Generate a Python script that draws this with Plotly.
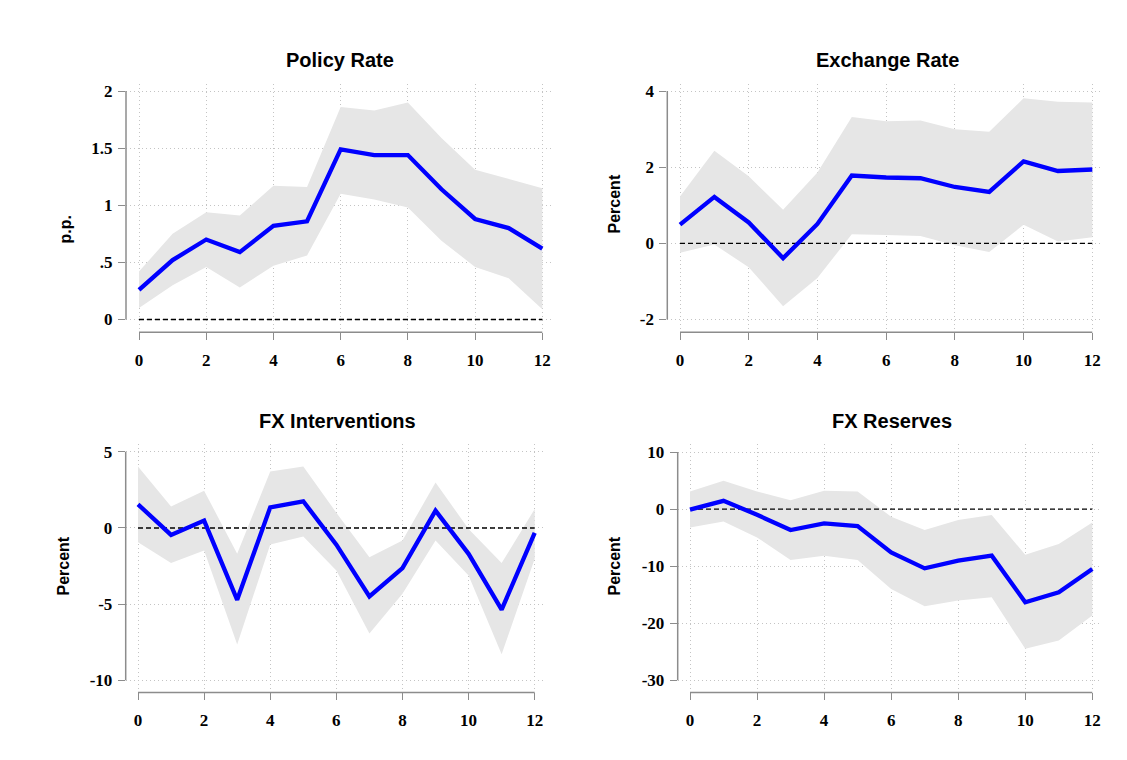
import plotly.graph_objects as go

# ---------------- data ----------------
horizon = list(range(13))

policy_irf = [0.26, 0.52, 0.70, 0.59, 0.82, 0.86, 1.49, 1.44, 1.44, 1.14, 0.88, 0.80, 0.62]
policy_hi = [0.42, 0.75, 0.94, 0.91, 1.17, 1.16, 1.86, 1.83, 1.90, 1.59, 1.31, 1.23, 1.15]
policy_lo = [0.10, 0.30, 0.46, 0.28, 0.47, 0.56, 1.10, 1.05, 0.98, 0.69, 0.46, 0.36, 0.09]

fx_rate_irf = [0.49, 1.22, 0.55, -0.39, 0.51, 1.78, 1.73, 1.71, 1.48, 1.35, 2.15, 1.90, 1.94]
fx_rate_hi = [1.23, 2.43, 1.76, 0.88, 1.86, 3.32, 3.21, 3.23, 3.00, 2.93, 3.81, 3.72, 3.70]
fx_rate_lo = [-0.25, -0.03, -0.63, -1.65, -0.91, 0.24, 0.22, 0.19, -0.05, -0.23, 0.49, 0.05, 0.16]

fxi_irf = [1.55, -0.46, 0.48, -4.72, 1.35, 1.75, -1.10, -4.50, -2.64, 1.14, -1.70, -5.37, -0.33]
fxi_hi = [4.04, 1.40, 2.45, -1.70, 3.71, 4.04, 1.00, -1.92, -0.83, 2.99, -0.07, -2.31, 1.24]
fxi_lo = [-0.94, -2.31, -1.48, -7.66, -1.09, -0.57, -2.79, -6.94, -4.32, -0.83, -3.12, -8.30, -2.03]

res_irf = [-0.10, 1.46, -0.99, -3.67, -2.51, -2.97, -7.58, -10.38, -9.04, -8.16, -16.33, -14.58, -10.50]
res_hi = [3.09, 4.96, 3.09, 1.57, 3.21, 3.09, -1.34, -3.67, -1.92, -1.05, -7.99, -6.12, -2.33]
res_lo = [-3.21, -2.16, -4.96, -8.92, -8.16, -8.92, -13.99, -17.03, -16.03, -15.45, -24.49, -23.03, -18.66]

titles = ["Policy Rate", "Exchange Rate", "FX Interventions", "FX Reserves"]
ytitles = ["p.p.", "Percent", "Percent", "Percent"]

x_ticks = [0, 2, 4, 6, 8, 10, 12]
y_ticks_policy = [0, 0.5, 1, 1.5, 2]
y_ticklabels_policy = ["0", ".5", "1", "1.5", "2"]
y_ticks_fxrate = [-2, 0, 2, 4]
y_ticks_fxi = [-10, -5, 0, 5]
y_ticks_res = [-30, -20, -10, 0, 10]

series = [
    (policy_irf, policy_lo, policy_hi, y_ticks_policy, y_ticklabels_policy),
    (fx_rate_irf, fx_rate_lo, fx_rate_hi, y_ticks_fxrate, [str(v) for v in y_ticks_fxrate]),
    (fxi_irf, fxi_lo, fxi_hi, y_ticks_fxi, [str(v) for v in y_ticks_fxi]),
    (res_irf, res_lo, res_hi, y_ticks_res, [str(v) for v in y_ticks_res]),
]

# ---------------- layout (page pixels) ----------------
W, H, OFF = 1111, 744, 8

def px(x):
    return (x - OFF) / W

def py(y):
    return 1 - (y - OFF) / H

# per panel: domain left, right, top, bottom ; pixel of first/last x tick ; pixel of max/min y tick
panels = [
    dict(l=126, r=552, t=82.7, b=331, x0=139, x12=542.3, ytop=89.3, ybot=318.3, tx=340, ty=58.5, ax=65, ay=228),
    dict(l=667.3, r=1103, t=82.7, b=331, x0=680, x12=1092.3, ytop=89.3, ybot=318.3, tx=887, ty=58.5, ax=614, ay=203),
    dict(l=125.7, r=545, t=442.7, b=692.3, x0=138, x12=534.7, ytop=451, ybot=680, tx=337, ty=420.5, ax=63, ay=566),
    dict(l=677.7, r=1102, t=442.7, b=692.3, x0=690, x12=1092.3, ytop=451.3, ybot=680, tx=892, ty=420.5, ax=614, ay=566),
]

BLUE = "#0000ff"
BAND = "#e6e6e6"
AXC = "#8c8c8c"
GRIDC = "#c4c4c4"
TICKFONT = dict(family="Liberation Serif", size=17, color="black", weight="bold")

fig = go.Figure()
shapes = []
annotations = []

for i, (p, (irf, lo, hi, yt, ytl)) in enumerate(zip(panels, series)):
    xa = "x" if i == 0 else f"x{i+1}"
    ya = "y" if i == 0 else f"y{i+1}"
    xs = (p["x12"] - p["x0"]) / (horizon[-1] - horizon[0])
    xr = [horizon[0] - (p["x0"] - p["l"]) / xs, horizon[-1] + (p["r"] - p["x12"]) / xs]
    ys = (p["ybot"] - p["ytop"]) / (max(yt) - min(yt))
    yr = [min(yt) - (p["b"] - p["ybot"]) / ys, max(yt) + (p["ytop"] - p["t"]) / ys]

    fig.add_trace(go.Scatter(x=horizon, y=lo, mode="lines", line=dict(width=0, color=BAND),
                             xaxis=xa, yaxis=ya, showlegend=False, hoverinfo="skip"))
    fig.add_trace(go.Scatter(x=horizon, y=hi, mode="lines", line=dict(width=0, color=BAND),
                             fill="tonexty", fillcolor=BAND,
                             xaxis=xa, yaxis=ya, showlegend=False, hoverinfo="skip"))
    fig.add_trace(go.Scatter(x=[horizon[0], horizon[-1]], y=[0, 0], mode="lines",
                             line=dict(width=1.4, color="black", dash="5px,3px"),
                             xaxis=xa, yaxis=ya, showlegend=False, hoverinfo="skip"))
    fig.add_trace(go.Scatter(x=horizon, y=irf, mode="lines", line=dict(width=4.3, color=BLUE),
                             xaxis=xa, yaxis=ya, showlegend=False))

    axis_common = dict(showline=False, zeroline=False, showgrid=True, gridcolor=GRIDC,
                       griddash="1px,3px", gridwidth=1, ticks="outside", ticklen=7,
                       tickwidth=1.3, tickcolor=AXC, tickfont=TICKFONT)
    fig.update_layout(**{
        ("xaxis" if i == 0 else f"xaxis{i+1}"): dict(
            domain=[px(p["l"]), px(p["r"])], range=xr, anchor=ya,
            tickvals=x_ticks, ticktext=[str(v) for v in x_ticks],
            ticklabelstandoff=5, **axis_common),
        ("yaxis" if i == 0 else f"yaxis{i+1}"): dict(
            domain=[py(p["b"]), py(p["t"])], range=yr, anchor=xa,
            tickvals=yt, ticktext=ytl, ticklabelstandoff=2, **axis_common),
    })
    shapes.append(dict(type="line", xref="paper", yref=ya, x0=px(p["l"]), x1=px(p["l"]),
                       y0=min(yt), y1=max(yt), line=dict(color=AXC, width=1.5)))
    shapes.append(dict(type="line", xref=xa, yref="paper", x0=horizon[0], x1=horizon[-1],
                       y0=py(p["b"]), y1=py(p["b"]), line=dict(color=AXC, width=1.5)))
    annotations.append(dict(text=titles[i], x=px(p["tx"]), y=py(p["ty"]), xref="paper", yref="paper",
                            showarrow=False, xanchor="center", yanchor="middle",
                            font=dict(family="Liberation Sans", size=20, color="black", weight="bold")))
    annotations.append(dict(text=ytitles[i], x=px(p["ax"]), y=py(p["ay"]), xref="paper", yref="paper",
                            showarrow=False, xanchor="center", yanchor="middle", textangle=-90,
                            font=dict(family="Liberation Sans", size=16, color="black", weight="bold")))

fig.update_layout(width=W, height=H, margin=dict(l=0, r=0, t=0, b=0),
                  paper_bgcolor="white", plot_bgcolor="white",
                  shapes=shapes, annotations=annotations, showlegend=False)

fig.write_html("out.html")
